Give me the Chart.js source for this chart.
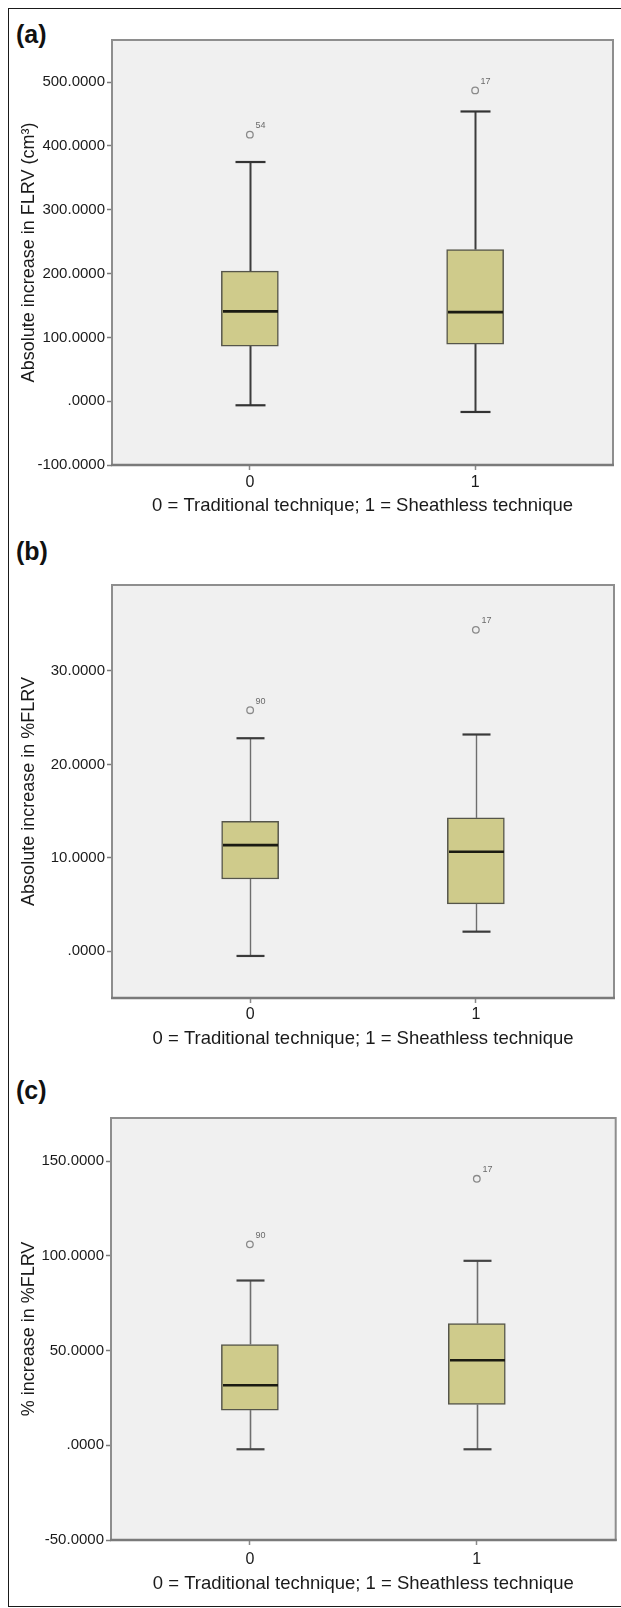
<!DOCTYPE html>
<html>
<head>
<meta charset="utf-8">
<script src="https://cdn.jsdelivr.net/npm/chart.js@4.4.1/dist/chart.umd.min.js"></script>
<style>
  html, body { margin: 0; padding: 0; background: #fff; }
  body { width: 621px; height: 1608px; position: relative; overflow: hidden; font-family: 'Liberation Sans', Arial, sans-serif; }
  #frame { position: absolute; left: 8px; top: 8px; width: 614px; height: 1599px; border: 1.5px solid #1a1a1a; box-sizing: border-box; }
  .tag { position: absolute; left: 16px; font-weight: bold; font-size: 25px; line-height: 24px; color: #111; }
  canvas { position: absolute; left: 0; }
</style>
</head>
<body>
<div id="frame"></div>
<div class="tag" style="top:22px">(a)</div>
<div class="tag" style="top:539px">(b)</div>
<div class="tag" style="top:1078px">(c)</div>
<canvas id="chart-a" width="621" height="496" style="top:29px"></canvas>
<canvas id="chart-b" width="621" height="484" style="top:574px"></canvas>
<canvas id="chart-c" width="621" height="495" style="top:1107px"></canvas>

<script>
// ---------- Data ----------
const groups = [0, 1];
const groupLabels = ["0", "1"];
const xTitle = "0 = Traditional technique; 1 = Sheathless technique";

// (a) Absolute increase in FLRV (cm3)
const minA = [-6.4, -16.9];
const q1A = [86.4, 89.5];
const medA = [140.7, 139.6];
const q3A = [203.8, 237.7];
const maxA = [374.8, 454.0];
const outA = [417.7, 487.0];
const outIdA = ["54", "17"];
const tickValsA = [-100, 0, 100, 200, 300, 400, 500];
const tickLabelsA = ["-100.0000", ".0000", "100.0000", "200.0000", "300.0000", "400.0000", "500.0000"];

// (b) Absolute increase in %FLRV
const minB = [-0.5, 2.1];
const q1B = [7.74, 5.08];
const medB = [11.36, 10.65];
const q3B = [13.9, 14.27];
const maxB = [22.8, 23.2];
const outB = [25.8, 34.4];
const outIdB = ["90", "17"];
const tickValsB = [0, 10, 20, 30];
const tickLabelsB = [".0000", "10.0000", "20.0000", "30.0000"];

// (c) % increase in %FLRV
const minC = [-2.1, -2.1];
const q1C = [18.6, 21.6];
const medC = [31.7, 44.9];
const q3C = [53.2, 64.2];
const maxC = [87.0, 97.4];
const outC = [106.1, 140.7];
const outIdC = ["90", "17"];
const tickValsC = [-50, 0, 50, 100, 150];
const tickLabelsC = ["-50.0000", ".0000", "50.0000", "100.0000", "150.0000"];

// ---------- Styling ----------
const FONT = "'Liberation Sans', Arial, sans-serif";
Chart.defaults.font.family = FONT;
Chart.defaults.color = "#1a1a1a";

const BOX_FILL = "#cfcb8b";
const BOX_EDGE = "#55554a";
const PLOT_BG = "#f0f0f0";
const FRAME_GREY = "#8e8e8e";

// draws plot background, whiskers, medians, outlier ids and the plot frame
function makeExtras(p) {
  return {
    id: "boxExtras",
    beforeDraw(chart) {
      const { ctx, chartArea: a } = chart;
      ctx.save();
      ctx.fillStyle = PLOT_BG;
      ctx.fillRect(a.left, a.top, a.width, a.height);
      ctx.restore();
    },
    afterDatasetsDraw(chart) {
      const { ctx, scales: { x, y } } = chart;
      const seg = (x1, y1, x2, y2) => { ctx.beginPath(); ctx.moveTo(x1, y1); ctx.lineTo(x2, y2); ctx.stroke(); };
      ctx.save();
      groups.forEach((g, i) => {
        const cx = Math.round(x.getPixelForValue(g)) + 0.5;
        ctx.strokeStyle = p.whiskerColor;
        ctx.lineWidth = p.whiskerWidth;
        seg(cx, y.getPixelForValue(p.q3[i]), cx, y.getPixelForValue(p.max[i]));
        seg(cx, y.getPixelForValue(p.q1[i]), cx, y.getPixelForValue(p.min[i]));
        ctx.strokeStyle = p.capColor;
        ctx.lineWidth = 2.2;
        const half = p.capWidth / 2;
        seg(cx - half, y.getPixelForValue(p.max[i]), cx + half, y.getPixelForValue(p.max[i]));
        seg(cx - half, y.getPixelForValue(p.min[i]), cx + half, y.getPixelForValue(p.min[i]));
        ctx.strokeStyle = "#1b1b12";
        ctx.lineWidth = 2.6;
        seg(cx - p.boxWidth / 2 + 1, y.getPixelForValue(p.med[i]), cx + p.boxWidth / 2 - 1, y.getPixelForValue(p.med[i]));
        ctx.fillStyle = "#6a6a6a";
        ctx.font = "9px " + FONT;
        ctx.textAlign = "left";
        ctx.textBaseline = "middle";
        ctx.fillText(p.outIds[i], cx + 5, y.getPixelForValue(p.out[i]) - 9);
      });
      ctx.restore();
    },
    afterDraw(chart) {
      const { ctx, chartArea: a } = chart;
      ctx.save();
      ctx.strokeStyle = FRAME_GREY;
      ctx.lineWidth = 2;
      ctx.strokeRect(a.left, a.top, a.width, a.height);
      ctx.strokeStyle = "#7a7a7a";
      ctx.lineWidth = 2.5;
      ctx.beginPath();
      ctx.moveTo(a.left - 1, a.bottom);
      ctx.lineTo(a.right + 1, a.bottom);
      ctx.stroke();
      ctx.restore();
    }
  };
}

function buildPanel(canvasId, p) {
  return new Chart(document.getElementById(canvasId), {
    type: "bar",
    data: {
      datasets: [
        {
          type: "bar",
          data: groups.map((g, i) => ({ x: g, y: [p.q1[i], p.q3[i]] })),
          backgroundColor: BOX_FILL,
          borderColor: BOX_EDGE,
          borderWidth: 1.5,
          borderSkipped: false,
          barThickness: p.boxWidth,
          grouped: false
        },
        {
          type: "scatter",
          data: groups.map((g, i) => ({ x: g, y: p.out[i] })),
          pointStyle: "circle",
          pointRadius: 3.3,
          borderColor: "#8a8a8a",
          borderWidth: 1.3,
          backgroundColor: "rgba(0,0,0,0)"
        }
      ]
    },
    options: {
      responsive: false,
      animation: false,
      events: [],
      layout: { padding: { left: 0, right: 621 - p.plotRight, top: 10, bottom: 0 } },
      plugins: { legend: { display: false }, tooltip: { enabled: false } },
      scales: {
        x: {
          type: "linear",
          min: -0.612,
          max: 1.612,
          offset: false,
          afterFit: (s) => { s.height = p.xAxisHeight; },
          afterBuildTicks: (s) => { s.ticks = groups.map(v => ({ value: v })); },
          grid: { display: true, drawOnChartArea: false, drawTicks: true, tickLength: 5, tickColor: "#8a8a8a", tickWidth: 1.5, offset: false },
          border: { display: false },
          ticks: {
            padding: p.xLabelPad,
            font: { size: 16 },
            color: "#1a1a1a",
            callback: (v, idx) => groupLabels[idx]
          },
          title: {
            display: true,
            text: xTitle,
            font: { size: 18.5 },
            color: "#1a1a1a",
            padding: { top: 0, bottom: p.xTitlePad }
          }
        },
        y: {
          type: "linear",
          min: p.yMin,
          max: p.yMax,
          afterFit: (s) => { s.width = p.plotLeft; },
          afterBuildTicks: (s) => { s.ticks = p.tickVals.map(v => ({ value: v })); },
          grid: { display: true, drawOnChartArea: false, drawTicks: true, tickLength: 5, tickColor: "#7a7a7a", tickWidth: 1.5 },
          border: { display: false },
          ticks: {
            padding: 2,
            font: { size: 15 },
            color: "#1a1a1a",
            callback: (v, idx) => p.tickLabels[idx]
          },
          title: {
            display: true,
            text: p.yTitle,
            font: { size: 18 },
            color: "#1a1a1a",
            padding: { top: 18, bottom: 0 }
          }
        }
      }
    },
    plugins: [makeExtras(p)]
  });
}

buildPanel("chart-a", {
  min: minA, q1: q1A, med: medA, q3: q3A, max: maxA, out: outA, outIds: outIdA,
  tickVals: tickValsA, tickLabels: tickLabelsA,
  yMin: -100, yMax: 566, yTitle: "Absolute increase in FLRV (cm³)",
  plotLeft: 112, plotRight: 613, xAxisHeight: 60, xLabelPad: 3, xTitlePad: 7.5,
  boxWidth: 57, capWidth: 30, whiskerColor: "#3c3c3c", whiskerWidth: 2, capColor: "#333"
});

buildPanel("chart-b", {
  min: minB, q1: q1B, med: medB, q3: q3B, max: maxB, out: outB, outIds: outIdB,
  tickVals: tickValsB, tickLabels: tickLabelsB,
  yMin: -5, yMax: 39.2, yTitle: "Absolute increase in %FLRV",
  plotLeft: 112, plotRight: 614, xAxisHeight: 60, xLabelPad: 2, xTitlePad: 8,
  boxWidth: 57, capWidth: 28, whiskerColor: "#6e6e6e", whiskerWidth: 1.4, capColor: "#3a3a3a"
});

buildPanel("chart-c", {
  min: minC, q1: q1C, med: medC, q3: q3C, max: maxC, out: outC, outIds: outIdC,
  tickVals: tickValsC, tickLabels: tickLabelsC,
  yMin: -50, yMax: 172.8, yTitle: "% increase in %FLRV",
  plotLeft: 111, plotRight: 616, xAxisHeight: 62, xLabelPad: 5, xTitlePad: 7,
  boxWidth: 57, capWidth: 28, whiskerColor: "#6e6e6e", whiskerWidth: 1.6, capColor: "#444"
});
</script>
</body>
</html>
